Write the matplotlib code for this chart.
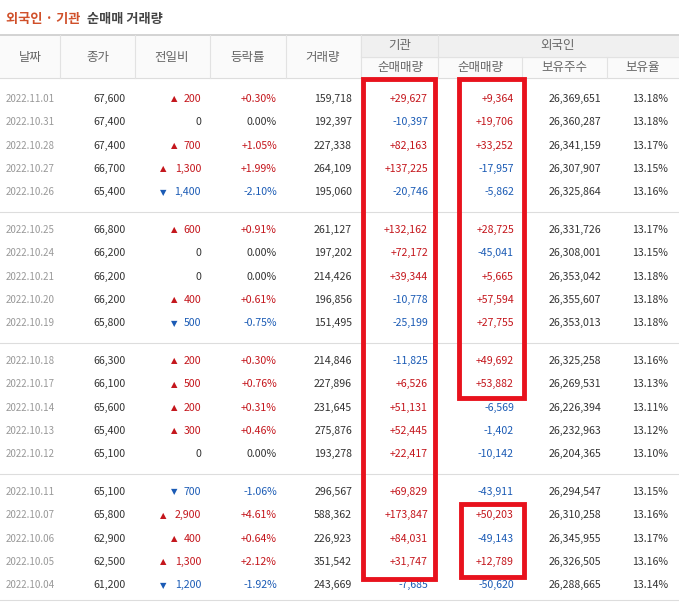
import matplotlib.pyplot as plt
from matplotlib.patches import Rectangle

plt.rcParams['font.family'] = ['Noto Sans CJK KR', 'DejaVu Sans']

dates = ["2022.11.01", "2022.10.31", "2022.10.28", "2022.10.27", "2022.10.26",
         "2022.10.25", "2022.10.24", "2022.10.21", "2022.10.20", "2022.10.19",
         "2022.10.18", "2022.10.17", "2022.10.14", "2022.10.13", "2022.10.12",
         "2022.10.11", "2022.10.07", "2022.10.06", "2022.10.05", "2022.10.04"]
close = [67600, 67400, 67400, 66700, 65400, 66800, 66200, 66200, 66200, 65800,
         66300, 66100, 65600, 65400, 65100, 65100, 65800, 62900, 62500, 61200]
change = [200, 0, 700, 1300, -1400, 600, 0, 0, 400, -500,
          200, 500, 200, 300, 0, -700, 2900, 400, 1300, -1200]
rate = [0.30, 0.00, 1.05, 1.99, -2.10, 0.91, 0.00, 0.00, 0.61, -0.75,
        0.30, 0.76, 0.31, 0.46, 0.00, -1.06, 4.61, 0.64, 2.12, -1.92]
volume = [159718, 192397, 227338, 264109, 195060, 261127, 197202, 214426, 196856, 151495,
          214846, 227896, 231645, 275876, 193278, 296567, 588362, 226923, 351542, 243669]
inst = [29627, -10397, 82163, 137225, -20746, 132162, 72172, 39344, -10778, -25199,
        -11825, 6526, 51131, 52445, 22417, 69829, 173847, 84031, 31747, -7685]
foreign = [9364, 19706, 33252, -17957, -5862, 28725, -45041, 5665, 57594, 27755,
           49692, 53882, -6569, -1402, -10142, -43911, 50203, -49143, 12789, -50620]
shares = [26369651, 26360287, 26341159, 26307907, 26325864, 26331726, 26308001, 26353042,
          26355607, 26353013, 26325258, 26269531, 26226394, 26232963, 26204365, 26294547,
          26310258, 26345955, 26326505, 26288665]
hold = [13.18, 13.18, 13.17, 13.15, 13.16, 13.17, 13.15, 13.18, 13.18, 13.18,
        13.16, 13.13, 13.11, 13.12, 13.10, 13.15, 13.16, 13.17, 13.16, 13.14]

RED = "#c4161c"
BLUE = "#1b5bb5"
DARK = "#333333"
GRAY = "#999999"


def col(v):
    return RED if v > 0 else (BLUE if v < 0 else DARK)


fig = plt.figure(figsize=(6.79, 6.06), dpi=100)
ax = fig.add_axes([0, 0, 1, 1])
ax.set_xlim(0, 679)
ax.set_ylim(606, 0)
ax.axis("off")

# title
ax.text(6, 19, "외국인 · 기관", color="#d0502a", fontsize=9.5, fontweight="bold", va="center")
ax.text(87, 19, "순매매 거래량", color="#444444", fontsize=9.5, fontweight="bold", va="center")

# header
ax.add_patch(Rectangle((0, 35), 679, 43, color="#fafafa", zorder=0))
ax.add_patch(Rectangle((361, 35), 318, 22, color="#f0f0f0", zorder=0))
ax.plot([0, 679], [35, 35], color="#cccccc", lw=1.2)
ax.plot([0, 679], [78, 78], color="#dddddd", lw=0.8)
ax.plot([361, 679], [57, 57], color="#e2e2e2", lw=0.8)
for x in [60, 135, 210, 286, 361]:
    ax.plot([x, x], [35, 78], color="#e2e2e2", lw=0.8)
for x in [438, 522, 607]:
    ax.plot([x, x], [57, 78], color="#e2e2e2", lw=0.8)
ax.plot([438, 438], [35, 57], color="#e2e2e2", lw=0.8)

hkw = dict(color="#666666", fontsize=9, ha="center", va="center")
for x, t in [(30, "날짜"), (98, "종가"), (172, "전일비"), (248, "등락률"), (323, "거래량")]:
    ax.text(x, 57, t, **hkw)
ax.text(400, 46, "기관", **hkw)
ax.text(558, 46, "외국인", **hkw)
for x, t in [(400, "순매매량"), (480, "순매매량"), (564, "보유주수"), (643, "보유율")]:
    ax.text(x, 68, t, **hkw)

# rows
fs = 7.6
for i in range(len(dates)):
    g, r = divmod(i, 5)
    y = 99 + g * 131 + r * 23.3
    ax.text(6, y, dates[i], color=GRAY, fontsize=7, va="center")
    ax.text(126, y, f"{close[i]:,}", color=DARK, fontsize=fs, ha="right", va="center")
    c = change[i]
    ctxt = f"{abs(c):,}"
    ax.text(201, y, ctxt, color=col(c), fontsize=fs, ha="right", va="center")
    if c != 0:
        w = 5.3 * len(ctxt)
        ax.text(201 - w - 8, y, "▲" if c > 0 else "▼", color=col(c), fontsize=6,
                ha="right", va="center", family="DejaVu Sans")
    ax.text(277, y, f"{rate[i]:+.2f}%" if rate[i] != 0 else "0.00%", color=col(rate[i]),
            fontsize=fs, ha="right", va="center")
    ax.text(352, y, f"{volume[i]:,}", color=DARK, fontsize=fs, ha="right", va="center")
    ax.text(428, y, f"{inst[i]:+,}", color=col(inst[i]), fontsize=fs, ha="right", va="center")
    ax.text(514, y, f"{foreign[i]:+,}", color=col(foreign[i]), fontsize=fs, ha="right", va="center")
    ax.text(575, y, f"{shares[i]:,}", color=DARK, fontsize=fs, ha="center", va="center")
    ax.text(668, y, f"{hold[i]:.2f}%", color=DARK, fontsize=fs, ha="right", va="center")

for y in [212, 343, 474]:
    ax.plot([0, 679], [y, y], color="#dddddd", lw=0.8)
ax.plot([0, 679], [600, 600], color="#dddddd", lw=0.8)

# highlight boxes
for x0, y0, x1, y1 in [(363, 79, 435, 579), (459, 79, 524, 398), (461, 504, 524, 577)]:
    ax.add_patch(Rectangle((x0, y0), x1 - x0, y1 - y0, fill=False, ec="#e8121d", lw=3.5, zorder=5))

fig.savefig("out.png", dpi=100)
